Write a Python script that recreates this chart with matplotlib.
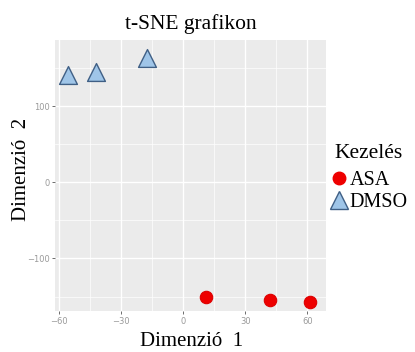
import numpy as np
import matplotlib.pyplot as plt
from matplotlib.lines import Line2D

# t-SNE coordinates
asa_x = [11, 42, 61.5]
asa_y = [-150.5, -155, -157]
dmso_x = [-55.5, -42, -17.5]
dmso_y = [141.5, 145.5, 163.5]

x_ticks = [-60, -30, 0, 30, 60]
y_ticks = [-100, 0, 100]
x_minor = [-45, -15, 15, 45]
y_minor = [-150, -50, 50, 150]

serif = ['Liberation Serif', 'DejaVu Serif']

fig = plt.figure(figsize=(4.15, 3.52), dpi=100)
ax = fig.add_axes([0.1325, 0.1165, 0.653, 0.77])
ax.set_facecolor('#ebebeb')

ax.scatter(asa_x, asa_y, s=80, marker='o', color='#ee0000', edgecolor='#dd0000', linewidth=0.8, zorder=3)
ax.scatter(dmso_x, dmso_y, s=165, marker='^', color='#9fc5e8', edgecolor='#3f5f85', linewidth=1.0, zorder=3)

ax.set_xlim(-62, 69)
ax.set_ylim(-169, 187)
ax.set_xticks(x_ticks)
ax.set_yticks(y_ticks)
ax.set_xticks(x_minor, minor=True)
ax.set_yticks(y_minor, minor=True)
ax.grid(which='major', color='white', linewidth=1.0)
ax.grid(which='minor', color='white', linewidth=0.5)
ax.set_axisbelow(True)
for s in ax.spines.values():
    s.set_visible(False)
ax.tick_params(which='major', length=2.5, width=0.6, color='#555555', labelsize=6, labelcolor='#9a9a9a', pad=1.5)
ax.tick_params(which='minor', length=0)

ax.set_title('t-SNE grafikon', family=serif, fontsize=15.5, pad=8)
ax.set_xlabel('Dimenzió  1', family=serif, fontsize=15, va='center')
ax.set_ylabel('Dimenzió  2', family=serif, fontsize=15, va='center')
ax.xaxis.set_label_coords(0.505, -0.114)
ax.yaxis.set_label_coords(-0.122, 0.524)

# legend: title as separate text so the gap matches
fig.text(0.805, 0.565, 'Kezelés', family=serif, fontsize=15.5, va='center', ha='left')
handles = [
    Line2D([], [], marker='o', linestyle='', markersize=9, color='#ee0000'),
    Line2D([], [], marker='^', linestyle='', markersize=13, markerfacecolor='#9fc5e8', markeredgecolor='#3f5f85'),
]
fig.legend(handles, ['ASA', 'DMSO'], loc='center left',
           bbox_to_anchor=(0.792, 0.457), frameon=False,
           prop={'family': serif, 'size': 14.5},
           handletextpad=0.05, labelspacing=0.15, borderaxespad=0, borderpad=0, handlelength=1.0)

fig.savefig('out.png', dpi=100)
